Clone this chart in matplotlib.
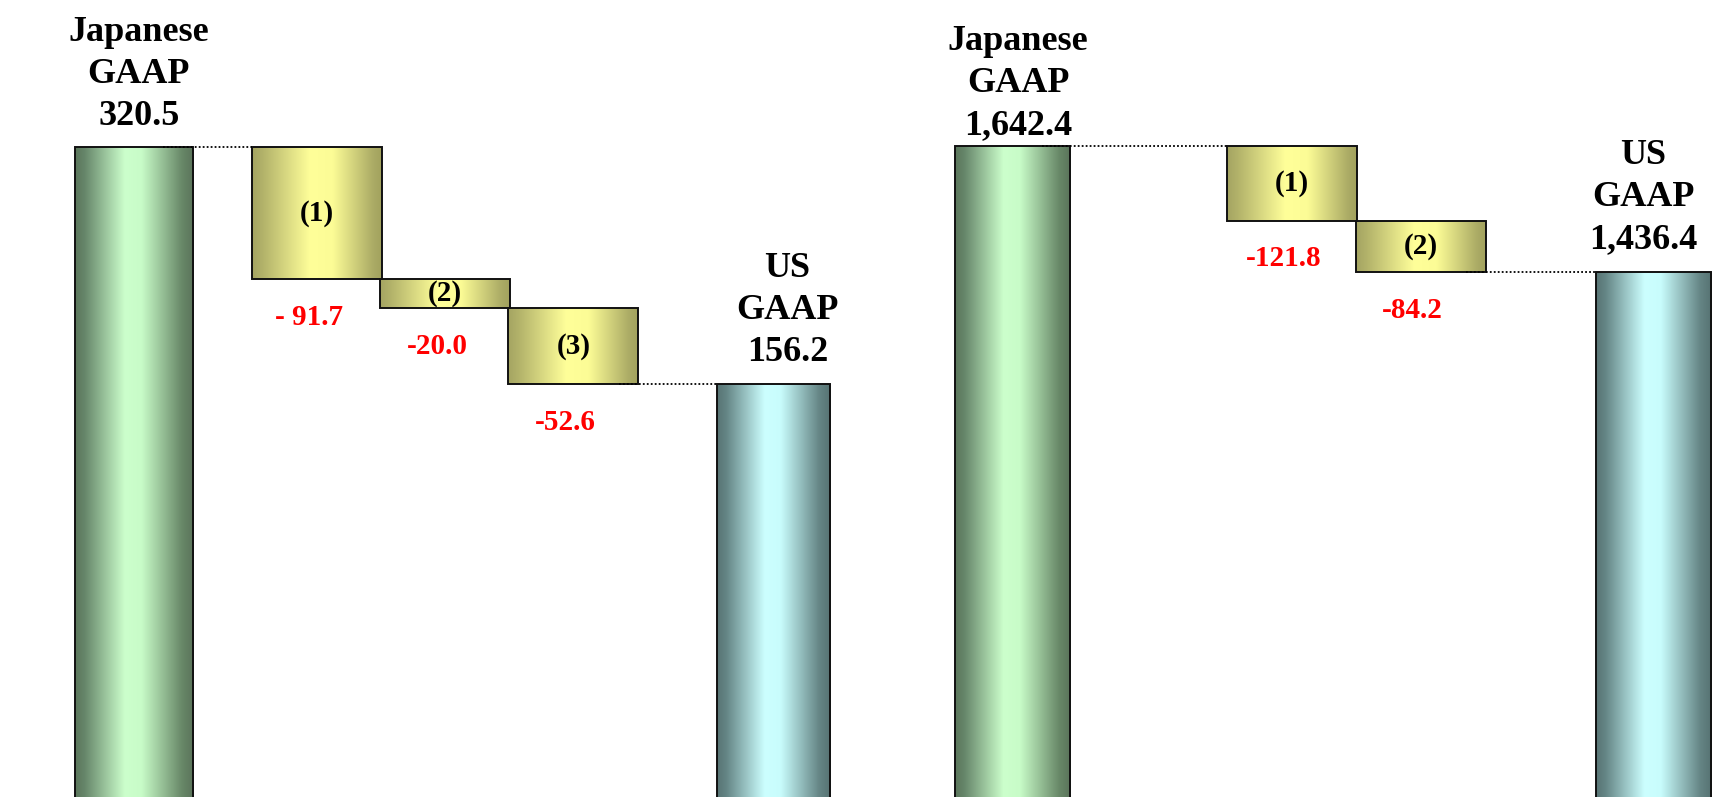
import numpy as np
import matplotlib
matplotlib.use("Agg")
import matplotlib.pyplot as plt
from matplotlib.colors import LinearSegmentedColormap

plt.rcParams['font.family'] = ['Liberation Serif', 'DejaVu Serif']
plt.rcParams['font.weight'] = 'bold'

# values
left_from = 320.5
left_steps = [-91.7, -20.0, -52.6]
left_step_text = ['- 91.7', '-20.0', '-52.6']
left_to = 156.2

right_from = 1642.4
right_steps = [-121.8, -84.2]
right_step_text = ['-121.8', '-84.2']
right_to = 1436.4

step_tags = ['(1)', '(2)', '(3)']
from_name = 'Japanese\nGAAP'
to_name = 'US\nGAAP'

# layout (x in slot units of 130 px, each panel is half the figure)
left_x = [1.03, 2.44, 3.425, 4.41, 5.95]
left_w = [0.91, 1.0, 1.0, 1.0, 0.87]
left_ylim = (-130.1, 422.4)
right_x = [1.115, 3.26, 4.25, 6.04]
right_w = [0.885, 1.0, 1.0, 0.885]
right_ylim = (578.1, 1881.1)

green = LinearSegmentedColormap.from_list('green', [
    (0, '#5b765b'), (0.08, '#66866a'), (0.42, '#ccffcc'), (0.56, '#c8fcc8'),
    (0.9, '#688868'), (1, '#5a735a')])
teal = LinearSegmentedColormap.from_list('teal', [
    (0, '#587474'), (0.08, '#648585'), (0.42, '#ccffff'), (0.56, '#c8fcfc'),
    (0.9, '#658585'), (1, '#567272')])
olive = LinearSegmentedColormap.from_list('olive', [
    (0, '#a4a462'), (0.08, '#b2b26a'), (0.45, '#ffff99'), (0.62, '#fcfc96'),
    (0.93, '#acac66'), (1, '#a2a25e')])


def shade(ax, rect, cmap):
    x0, y0 = rect.get_x(), rect.get_y()
    w, h = rect.get_width(), rect.get_height()
    grad = np.linspace(0, 1, 256).reshape(1, -1)
    im = ax.imshow(grad, cmap=cmap, aspect='auto', interpolation='bilinear',
                   extent=(x0, x0 + w, y0, y0 + h), zorder=2)
    im.set_clip_path(rect)
    rect.set_facecolor('none')
    rect.set_zorder(3)


def waterfall(ax, start, steps, step_text, end, xs, ws, ylim, gaps):
    ax.axis('off')
    base = ylim[0] - 50

    # columns at both ends
    cols = ax.bar([xs[0], xs[-1]], [start - base, end - base], bottom=base,
                  width=[ws[0], ws[-1]], edgecolor='#111111', linewidth=1.4)
    shade(ax, cols[0], green)
    shade(ax, cols[1], teal)

    # adjustment boxes
    tops = start + np.concatenate([[0], np.cumsum(steps)[:-1]])
    boxes = ax.bar(xs[1:-1], steps, bottom=tops, width=ws[1:-1],
                   edgecolor='#111111', linewidth=1.4)
    for b in boxes:
        shade(ax, b, olive)

    for i, (x, top, s) in enumerate(zip(xs[1:-1], tops, steps)):
        ax.text(x, top + s / 2, step_tags[i], ha='center', va='center',
                fontsize=21, color='black', zorder=6)
        ax.annotate(step_text[i], xy=(x, top + s), xytext=(-8, -38),
                    textcoords='offset pixels', ha='center', va='center',
                    fontsize=21, color='#ff0000')

    ax.annotate(f'{from_name}\n{start:,.1f}', xy=(xs[0], start),
                xytext=(5, gaps[0]), textcoords='offset pixels', ha='center',
                va='bottom', fontsize=26, linespacing=1.36)
    ax.annotate(f'{to_name}\n{end:,.1f}', xy=(xs[-1], end),
                xytext=(gaps[2], gaps[1]), textcoords='offset pixels',
                ha='center', va='bottom', fontsize=26, linespacing=1.36)

    # dotted connectors
    dot = dict(color='black', linestyle=(0, (1, 1.2)), linewidth=1.3, zorder=5)
    ax.plot([xs[0] + 0.22, xs[1] - ws[1] / 2], [start, start], **dot)
    ax.plot([xs[-2] + 0.35, xs[-1] - ws[-1] / 2], [end, end], **dot)

    ax.set_xlim(0, 868 / 130)
    ax.set_ylim(*ylim)


fig = plt.figure(figsize=(17.36, 7.97), dpi=100)
ax_l = fig.add_axes([0, 0, 0.5, 1])
ax_r = fig.add_axes([0.5, 0, 0.5, 1])

waterfall(ax_l, left_from, left_steps, left_step_text, left_to,
          left_x, left_w, left_ylim, (14, 15, 14))
waterfall(ax_r, right_from, right_steps, right_step_text, right_to,
          right_x, right_w, right_ylim, (4, 16, -10))

fig.savefig('out.png', dpi=100, facecolor='white')
